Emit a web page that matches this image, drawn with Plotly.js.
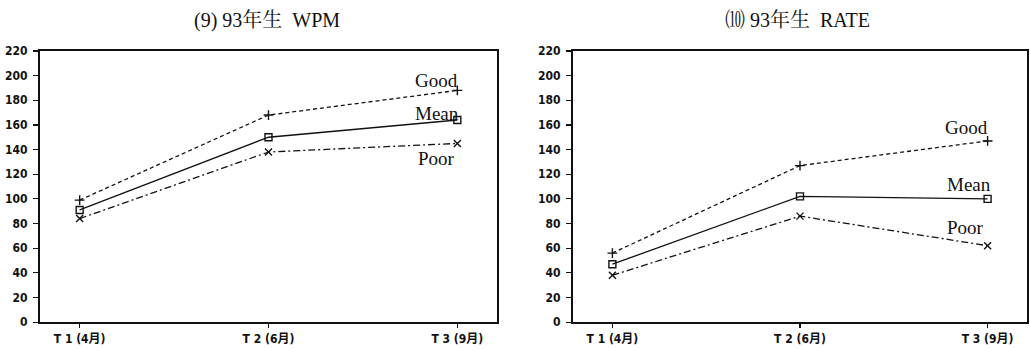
<!DOCTYPE html>
<html><head><meta charset="utf-8">
<script src="https://cdn.plot.ly/plotly-3.0.1.min.js"></script>
<style>html,body{margin:0;padding:0;background:#fff;}#chart{width:1030px;height:349px;}</style>
</head><body><div id="chart"></div>
<script>
const categories = ["T 1 (4月)", "T 2 (6月)", "T 3 (9月)"];
const yTicks = [0, 20, 40, 60, 80, 100, 120, 140, 160, 180, 200, 220];
const seriesNames = ["Good", "Mean", "Poor"];
const wpmGood = [99, 168, 188];
const wpmMean = [91, 150, 164];
const wpmPoor = [84, 138, 145];
const rateGood = [56, 127, 147];
const rateMean = [47, 102, 100];
const ratePoor = [38, 86, 62];
const titles = ["(9) 93年生  WPM", "⑽ 93年生  RATE"];

const styles = {
  Good: {dash: "4px,3px", symbol: "cross-thin", size: 7},
  Mean: {dash: "solid", symbol: "square-open", size: 7},
  Poor: {dash: "7px,3px,2px,3px", symbol: "x-thin", size: 7}
};

function mk(name, vals, ax) {
  const s = styles[name];
  return {
    x: [0, 1, 2], y: vals, xaxis: "x" + ax, yaxis: "y" + ax, name: name,
    mode: "lines+markers", showlegend: false,
    line: {color: "#111", width: 1.3, dash: s.dash},
    marker: {symbol: s.symbol, size: s.size, color: "#111", line: {color: "#111", width: 1.4}}
  };
}
const traces = [
  mk("Good", wpmGood, ""), mk("Mean", wpmMean, ""), mk("Poor", wpmPoor, ""),
  mk("Good", rateGood, "2"), mk("Mean", rateMean, "2"), mk("Poor", ratePoor, "2")
];

const tickFont = {family: "DejaVu Sans Condensed, Liberation Sans Narrow, Noto Sans CJK JP", size: 12, color: "#111", weight: "bold"};
function xax(dom, anchor) {
  return {domain: dom, anchor: anchor, range: [-0.21, 2.21], tickmode: "array", tickvals: [0, 1, 2], ticktext: categories,
    showline: true, mirror: true, linecolor: "#111", linewidth: 2, ticks: "outside", ticklen: 4, tickwidth: 1.2, tickcolor: "#111",
    showgrid: false, zeroline: false, tickfont: tickFont, fixedrange: true};
}
function yax(anchor) {
  return {domain: [0.077, 0.854], anchor: anchor, range: [0, 220], tickmode: "array", tickvals: yTicks,
    showline: true, mirror: true, linecolor: "#111", linewidth: 2, ticks: "outside", ticklen: 5, tickwidth: 1.2, tickcolor: "#111",
    showgrid: false, zeroline: false, tickfont: tickFont, ticklabelstandoff: 3, fixedrange: true};
}
const serif = {family: "Liberation Serif, DejaVu Serif, Noto Sans CJK JP", size: 19, color: "#111"};
function lab(text, xref, yref, x, y) {
  return {text: text, xref: xref, yref: yref, x: x, y: y, showarrow: false, font: serif, xanchor: "center", yanchor: "middle"};
}
const titleFont = {family: "Liberation Serif, Noto Serif CJK JP, Noto Sans CJK JP", size: 20, color: "#111"};
const annotations = [
  {text: titles[0], xref: "paper", yref: "paper", x: 267/1030, y: 1 - 20/349, showarrow: false, font: titleFont, xanchor: "center", yanchor: "middle"},
  {text: titles[1], xref: "paper", yref: "paper", x: 797/1030, y: 1 - 20/349, showarrow: false, font: titleFont, xanchor: "center", yanchor: "middle"},
  lab(seriesNames[0], "x", "y", 1.89, 196),
  lab(seriesNames[1], "x", "y", 1.89, 169),
  lab(seriesNames[2], "x", "y", 1.89, 133),
  lab(seriesNames[0], "x2", "y2", 1.89, 158),
  lab(seriesNames[1], "x2", "y2", 1.90, 112),
  lab(seriesNames[2], "x2", "y2", 1.88, 77)
];
const layout = {
  width: 1030, height: 349, margin: {l: 0, r: 0, t: 0, b: 0},
  paper_bgcolor: "#fff", plot_bgcolor: "#fff",
  xaxis: xax([40/1030, 497/1030], "y"), yaxis: yax("x"),
  xaxis2: xax([573/1030, 1027/1030], "y2"), yaxis2: yax("x2"),
  annotations: annotations
};
Plotly.newPlot("chart", traces, layout, {staticPlot: true, displayModeBar: false});
</script></body></html>
